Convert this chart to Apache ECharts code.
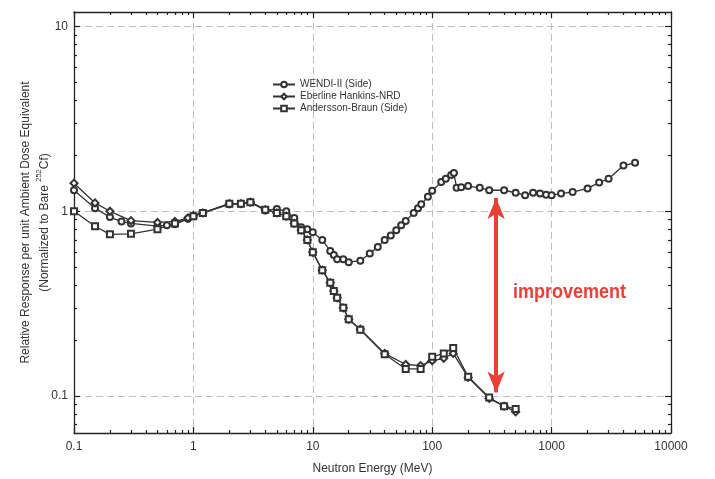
<!DOCTYPE html>
<html><head><meta charset="utf-8">
<script src="https://cdn.jsdelivr.net/npm/echarts@6/dist/echarts.min.js"></script>
<style>html,body{margin:0;padding:0;background:#fff}#c{width:715px;height:479px}</style>
</head><body><div id="c"></div>
<script>
// ---- data ----
const wendiE = [0.1,0.15,0.2,0.25,0.3,0.5,0.6,0.7,0.9,1,1.2,2,2.5,3,4,5,6,7,8,9,10,12,14,15,16,18,20,25,30,35,40,45,50,55,60,70,76,81,92,100,119,130,144,152,160,175,200,250,300,400,500,600,700,800,900,1000,1200,1500,2000,2500,3000,4000,5000];
const wendiR = [1.30,1.04,0.93,0.88,0.86,0.83,0.84,0.85,0.91,0.94,0.98,1.09,1.10,1.12,1.01,1.03,1.00,0.92,0.82,0.80,0.77,0.70,0.61,0.58,0.55,0.55,0.53,0.54,0.59,0.64,0.70,0.74,0.79,0.84,0.886,0.98,1.04,1.09,1.20,1.29,1.44,1.50,1.57,1.61,1.34,1.35,1.37,1.34,1.30,1.30,1.26,1.22,1.26,1.25,1.23,1.22,1.25,1.27,1.33,1.43,1.50,1.77,1.83];
const eberE = [0.1,0.15,0.2,0.3,0.5,0.7,0.9,1,1.2,2,2.5,3,4,5,6,7,8,9,10,12,14,15,16,18,20,25,40,60,80,100,125,150,200,300,400,500];
const eberR = [1.42,1.11,1.00,0.89,0.87,0.88,0.92,0.95,0.98,1.10,1.10,1.12,1.02,0.98,0.94,0.86,0.79,0.70,0.60,0.48,0.41,0.37,0.34,0.30,0.26,0.23,0.17,0.148,0.146,0.155,0.16,0.17,0.126,0.097,0.088,0.082];
const abE = [0.1,0.15,0.2,0.3,0.5,0.7,1,1.2,2,2.5,3,4,5,6,7,8,9,10,12,14,15,16,18,20,25,40,60,80,100,125,150,200,300,400,500];
const abR = [1.00,0.83,0.75,0.755,0.80,0.86,0.94,0.98,1.10,1.10,1.12,1.02,0.98,0.94,0.86,0.79,0.70,0.60,0.48,0.41,0.37,0.34,0.30,0.26,0.228,0.168,0.14,0.14,0.163,0.17,0.182,0.127,0.098,0.088,0.085];
const seriesNames = ['WENDI-II (Side)','Eberline Hankins-NRD','Andersson-Braun (Side)'];
const xMajor = [0.1,1,10,100,1000,10000];
const yMajor = [0.1,1,10];
const arrowE = 343, arrowTop = 1.18, arrowBottom = 0.1045;

function minors(decades, lo, hi){
  const out=[];
  decades.forEach(d=>{for(let k=2;k<=9;k++){const v=+(d*k).toPrecision(3); if(v>lo && v<hi) out.push(v);}});
  return out;
}
const xMinor = minors([0.1,1,10,100,1000],0.1,10000);
const yMinor = minors([0.01,0.1,1],0.063,12);

const X_MIN=0.1, X_MAX=10000, Y_MIN=0.063, Y_MAX=12;
const txt='#333', font='Liberation Sans, Arial, Helvetica, sans-serif';
const zip=(a,b)=>a.map((v,i)=>[v,b[i]]);

function xAx(pos, vals, len, main){
  return {type:'log', logBase:10, min:X_MIN, max:X_MAX, position:pos, gridIndex:0,
    axisLine:{show:main, onZero:false, lineStyle:{color:'#222', width:1.3}},
    axisTick:{show:true, inside:true, length:len, customValues:vals, lineStyle:{color:'#222',width:1.2}},
    axisLabel:{show:main && pos==='bottom', customValues:xMajor, color:txt, fontFamily:font, fontSize:12, margin:8,
      formatter:v=>String(+v.toPrecision(3))},
    splitLine:{show:main && pos==='bottom', lineStyle:{color:'#bdbdbd', type:[7,4], width:1}},
    name: (main && pos==='bottom') ? 'Neutron Energy (MeV)' : '', nameLocation:'middle', nameGap:30, nameMoveOverlap:false,
    nameTextStyle:{color:txt, fontFamily:font, fontSize:12}};
}
function yAx(pos, vals, len, main){
  return {type:'log', logBase:10, min:Y_MIN, max:Y_MAX, position:pos, gridIndex:0,
    axisLine:{show:main, onZero:false, lineStyle:{color:'#222', width:1.3}},
    axisTick:{show:true, inside:true, length:len, customValues:vals, lineStyle:{color:'#222',width:1.2}},
    axisLabel:{show:main && pos==='left', customValues:yMajor, color:txt, fontFamily:font, fontSize:12, margin:6,
      formatter:v=>String(+v.toPrecision(3))},
    splitLine:{show:main && pos==='left', lineStyle:{color:'#bdbdbd', type:[7,4], width:1}},
    name: (main && pos==='left') ? '{a|Relative Response per unit Ambient Dose Equivalent}\n{a|(Normalized to Bare }{s|252}{a|Cf)}' : '',
    nameLocation:'middle', nameGap:20, nameRotate:90, nameMoveOverlap:false,
    nameTextStyle:{color:txt, fontFamily:font, fontSize:12, lineHeight:19,
      rich:{a:{fontSize:12, color:txt, fontFamily:font, lineHeight:19}, s:{fontSize:7.5, color:txt, fontFamily:font, verticalAlign:'top', lineHeight:19, padding:[0,0,7,0]}}}};
}
const lineStyle={color:'#333', width:1.3};
function ser(name, e, r, sym, size){
  return {name, type:'line', data:zip(e,r), xAxisIndex:0, yAxisIndex:0, symbol:sym, symbolSize:size,
    showAllSymbol:true, lineStyle, itemStyle:{color:'#333', borderWidth:1.3}, animation:false, z:3};
}
const s3 = ser(seriesNames[2], abE, abR, 'emptyRect', 6);
s3.markLine = {silent:true, symbol:['arrow','arrow'], symbolSize:[13,21], animation:false,
  lineStyle:{color:'#ea3f37', width:4, type:'solid'}, label:{show:false},
  data:[[{coord:[arrowE, arrowTop]},{coord:[arrowE, arrowBottom]}]]};

const chart = echarts.init(document.getElementById('c'), null, {renderer:'canvas'});
chart.setOption({
  backgroundColor:'#fff',
  animation:false,
  grid:{left:74, right:44, top:12, bottom:46, containLabel:false, outerBoundsMode:'none'},
  xAxis:[xAx('bottom', xMajor, 6, true), xAx('bottom', xMinor, 3, false), xAx('top', xMajor, 6, true), xAx('top', xMinor, 3, false)],
  yAxis:[yAx('left', yMajor, 6, true), yAx('left', yMinor, 3, false), yAx('right', yMajor, 6, true), yAx('right', yMinor, 3, false)],
  legend:{orient:'vertical', left:267, top:74, itemWidth:22, itemHeight:7, itemGap:1,
    textStyle:{color:txt, fontFamily:font, fontSize:10, lineHeight:11, height:11}, data:seriesNames},
  graphic:[{type:'text', left:513, top:282, scaleX:0.9, style:{text:'improvement', fill:'#ea3f37',
    font:'bold 20px "Liberation Sans Narrow", "Arial Narrow", "Liberation Sans", sans-serif'}}],
  series:[ser(seriesNames[0], wendiE, wendiR, 'emptyCircle', 6), ser(seriesNames[1], eberE, eberR, 'emptyDiamond', 7), s3]
});
</script></body></html>
